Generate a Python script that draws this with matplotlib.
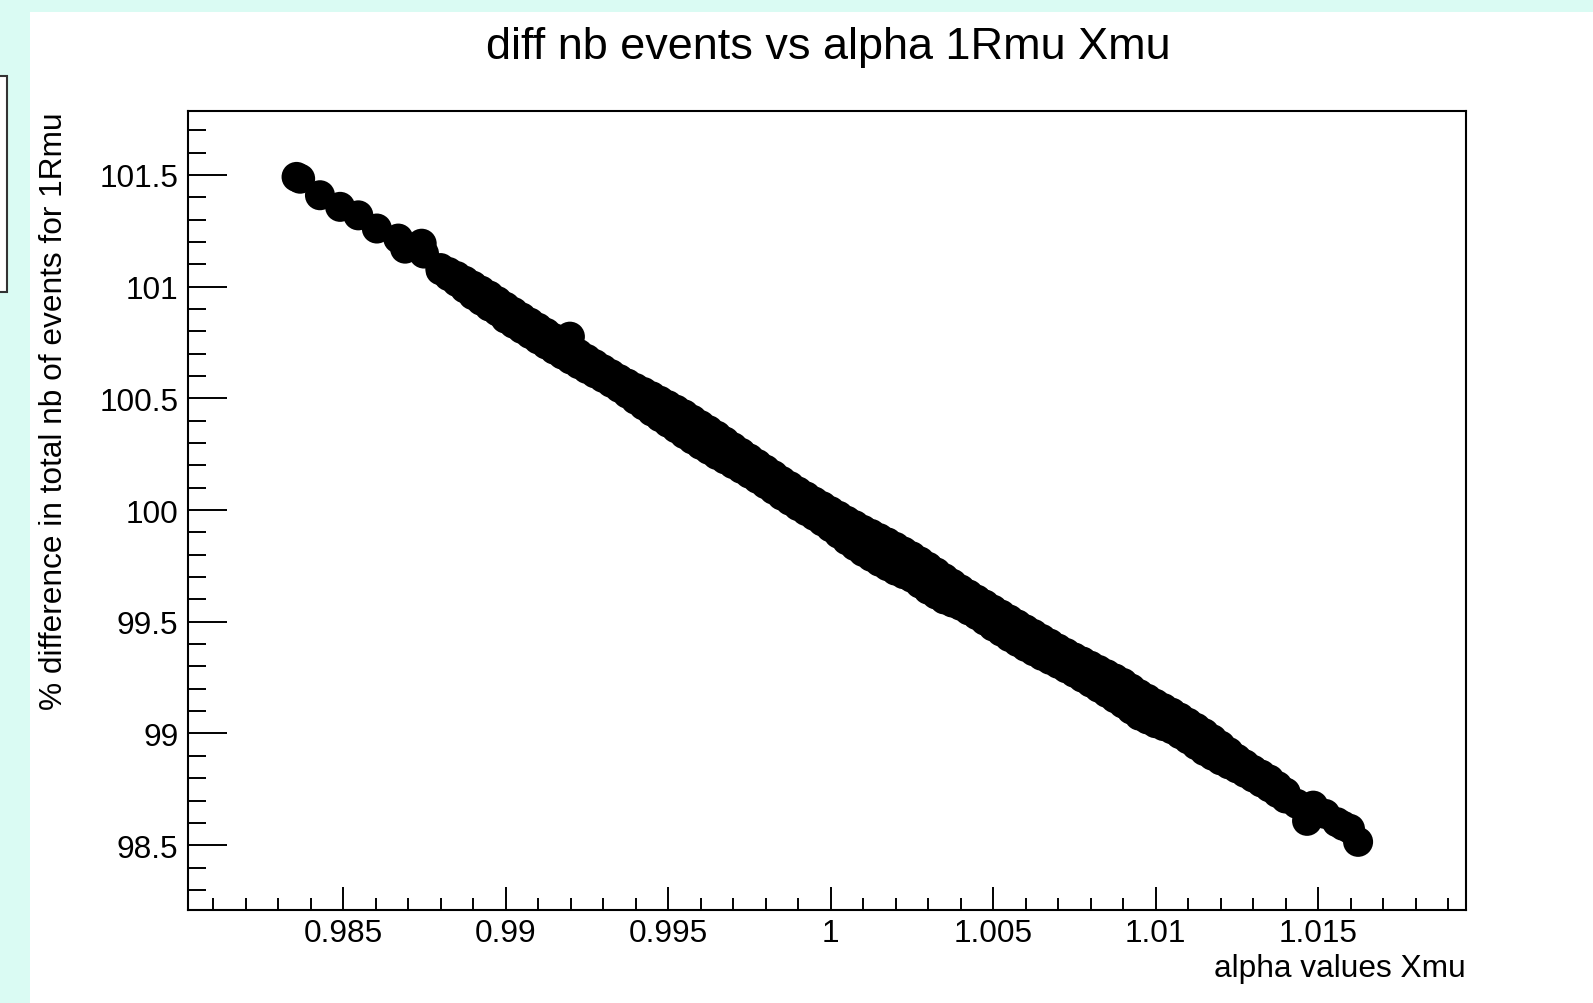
import matplotlib
matplotlib.use("Agg")
import matplotlib.pyplot as plt
from matplotlib.patches import Rectangle
from matplotlib.ticker import MultipleLocator, FormatStrFormatter
import numpy as np

plt.rcParams['font.family'] = ['Liberation Sans', 'DejaVu Sans']

# points: single dots at the start of the band
alpha_start = [0.98357, 0.98368, 0.98429, 0.98491, 0.98547, 0.98604, 0.98670, 0.98691, 0.98742, 0.98749]
pct_start = [101.491, 101.483, 101.409, 101.357, 101.319, 101.260, 101.215, 101.170, 101.192, 101.148]

# the thick band: upper and lower edge of the dots at each alpha
alpha_band = [0.9880, 0.9885, 0.9890, 0.9895, 0.9900, 0.9905, 0.9910, 0.9915, 0.9920, 0.9925,
              0.9930, 0.9935, 0.9940, 0.9945, 0.9950, 0.9955, 0.9960, 0.9965, 0.9970, 0.9975,
              0.9980, 0.9985, 0.9990, 0.9995, 1.0000, 1.0005, 1.0010, 1.0015, 1.0020, 1.0025,
              1.0030, 1.0035, 1.0040, 1.0045, 1.0050, 1.0055, 1.0060, 1.0065, 1.0070, 1.0075,
              1.0080, 1.0085, 1.0090, 1.0095, 1.0100, 1.0105, 1.0110, 1.0115, 1.0120, 1.0125,
              1.0130, 1.0135, 1.0140]
pct_upper = [101.083, 101.047, 101.004, 100.960, 100.910, 100.862, 100.816, 100.769, 100.722, 100.676,
             100.630, 100.586, 100.546, 100.509, 100.469, 100.428, 100.380, 100.333, 100.281, 100.231,
             100.181, 100.130, 100.083, 100.038, 99.995, 99.952, 99.911, 99.874, 99.835, 99.793,
             99.746, 99.695, 99.645, 99.599, 99.554, 99.510, 99.466, 99.423, 99.380, 99.340,
             99.303, 99.265, 99.226, 99.176, 99.133, 99.093, 99.048, 99.001, 98.946, 98.887,
             98.837, 98.794, 98.736]
pct_lower = [101.073, 101.021, 100.962, 100.911, 100.857, 100.811, 100.764, 100.718, 100.674, 100.632,
             100.592, 100.547, 100.494, 100.441, 100.391, 100.340, 100.292, 100.247, 100.206, 100.163,
             100.116, 100.065, 100.018, 99.974, 99.923, 99.865, 99.813, 99.769, 99.729, 99.697,
             99.644, 99.600, 99.572, 99.530, 99.479, 99.432, 99.388, 99.348, 99.312, 99.272,
             99.228, 99.182, 99.134, 99.080, 99.046, 99.019, 98.974, 98.922, 98.880, 98.844,
             98.803, 98.759, 98.709]

# same band, points in between
alpha_band_b = [0.98825, 0.98875, 0.98925, 0.98975, 0.99025, 0.99075, 0.99125, 0.99175, 0.99225, 0.99275,
                0.99325, 0.99375, 0.99425, 0.99475, 0.99525, 0.99575, 0.99625, 0.99675, 0.99725, 0.99775,
                0.99825, 0.99875, 0.99925, 0.99975, 1.00025, 1.00075, 1.00125, 1.00175, 1.00225, 1.00275,
                1.00325, 1.00375, 1.00425, 1.00475, 1.00525, 1.00575, 1.00625, 1.00675, 1.00725, 1.00775,
                1.00825, 1.00875, 1.00925, 1.00975, 1.01025, 1.01075, 1.01125, 1.01175, 1.01225, 1.01275,
                1.01325, 1.01375]
pct_upper_b = [101.065, 101.026, 100.982, 100.935, 100.886, 100.839, 100.793, 100.746, 100.699, 100.653,
               100.608, 100.566, 100.528, 100.489, 100.449, 100.404, 100.357, 100.307, 100.256, 100.206,
               100.156, 100.107, 100.061, 100.017, 99.974, 99.932, 99.893, 99.855, 99.814, 99.770,
               99.721, 99.670, 99.622, 99.577, 99.532, 99.488, 99.445, 99.402, 99.360, 99.322,
               99.284, 99.246, 99.201, 99.155, 99.113, 99.071, 99.025, 98.974, 98.917, 98.862,
               98.816, 98.765]
pct_lower_b = [101.047, 100.992, 100.937, 100.889, 100.834, 100.788, 100.741, 100.696, 100.653, 100.612,
               100.570, 100.521, 100.468, 100.416, 100.366, 100.316, 100.270, 100.227, 100.185, 100.140,
               100.091, 100.042, 99.996, 99.949, 99.894, 99.839, 99.791, 99.749, 99.713, 99.671,
               99.622, 99.586, 99.551, 99.505, 99.456, 99.410, 99.368, 99.330, 99.292, 99.250,
               99.205, 99.158, 99.107, 99.063, 99.033, 98.997, 98.948, 98.901, 98.862, 98.824,
               98.781, 98.734]

# stray dots: bump near 0.992 and the tail past 1.014
alpha_extra = [0.99198, 1.01435, 1.01485, 1.01466, 1.01522, 1.01558, 1.01577, 1.01598, 1.01623]
pct_extra = [100.776, 98.685, 98.677, 98.609, 98.640, 98.603, 98.587, 98.573, 98.515]

alpha = np.concatenate([alpha_start, alpha_band, alpha_band, alpha_band_b, alpha_band_b, alpha_extra])
pct = np.concatenate([pct_start, pct_upper, pct_lower, pct_upper_b, pct_lower_b, pct_extra])

W, H = 1593, 1004
fig = plt.figure(figsize=(W / 100, H / 100), dpi=100)
fig.patch.set_facecolor('#dafbf3')

# white canvas
fig.patches.append(Rectangle((30 / W, 0), 1, 1 - 13 / H, transform=fig.transFigure,
                             facecolor='white', edgecolor='none', zorder=-2))
# small box cut off at the left edge
fig.patches.append(Rectangle((-20 / W, 1 - 293 / H), 27 / W, 216 / H, transform=fig.transFigure,
                             facecolor='white', edgecolor='#333333', lw=1.5, zorder=-1))

ax = fig.add_axes([188 / W, 1 - 911 / H, (1466 - 188) / W, (911 - 112) / H])
ax.set_zorder(2)
ax.scatter(alpha, pct, s=467, c='black', edgecolors='none')

ax.set_xlim(0.98023, 1.01955)
ax.set_ylim(98.21, 101.786)

ax.xaxis.set_major_locator(MultipleLocator(0.005))
ax.xaxis.set_minor_locator(MultipleLocator(0.001))
ax.yaxis.set_major_locator(MultipleLocator(0.5))
ax.yaxis.set_minor_locator(MultipleLocator(0.1))
ax.xaxis.set_major_formatter(FormatStrFormatter('%g'))
ax.yaxis.set_major_formatter(FormatStrFormatter('%g'))

ax.tick_params(axis='x', which='major', direction='in', length=16.5, width=1.4, labelsize=22.8, pad=6)
ax.tick_params(axis='x', which='minor', direction='in', length=9, width=1.4)
ax.tick_params(axis='y', which='major', direction='in', length=28, width=1.4, labelsize=22.8, pad=7)
ax.tick_params(axis='y', which='minor', direction='in', length=13, width=1.4)
for sp in ax.spines.values():
    sp.set_linewidth(1.5)

fig.text(828 / W, 1 - 59 / H, "diff nb events vs alpha 1Rmu Xmu", ha='center', va='baseline', fontsize=32.4)
fig.text(1466 / W, 1 - 977 / H, "alpha values Xmu", ha='right', va='baseline', fontsize=22.8)
fig.text(54 / W, 1 - 112 / H, "% difference in total nb of events for 1Rmu", rotation=90,
         ha='center', va='top', fontsize=22.8)

fig.savefig('out.png', dpi=100, facecolor=fig.get_facecolor())
